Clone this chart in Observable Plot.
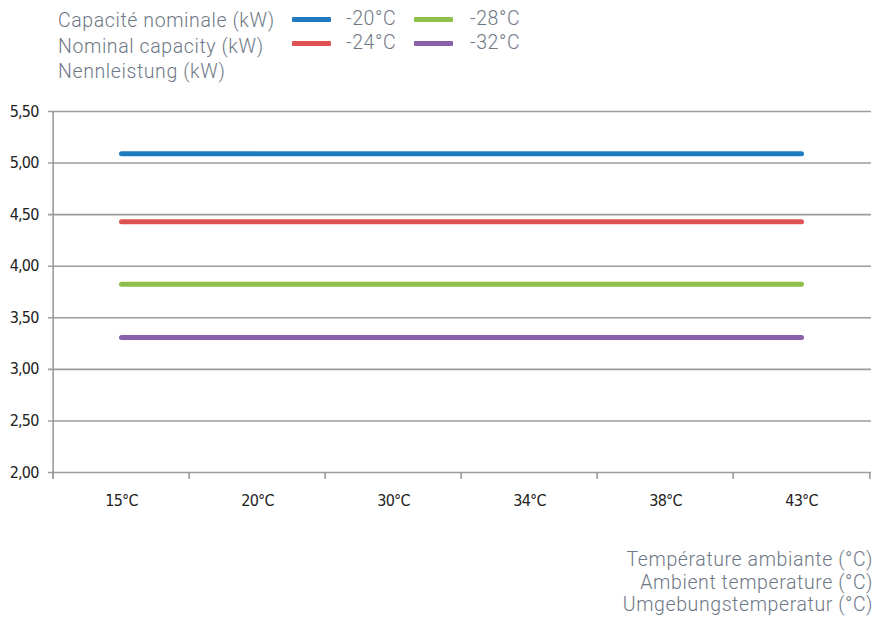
<!DOCTYPE html>
<html><head><meta charset="utf-8">
<script src="https://cdn.jsdelivr.net/npm/d3@7"></script>
<script src="https://cdn.jsdelivr.net/npm/@observablehq/plot@0.6"></script>
<style>
body{margin:0;background:#fff;width:875px;height:622px;position:relative;overflow:hidden}
#head{position:relative;height:95px;font-family:Roboto,"Noto Sans",sans-serif;font-weight:300;color:#6e7886;font-size:19.5px;letter-spacing:0.6px}
#title{position:absolute;left:58px;top:8px;line-height:25.5px}
.sw{position:absolute;height:5px;width:39px;border-radius:1px}
.lt{position:absolute;line-height:20px}
#chart svg{display:block}
#foot{position:absolute;right:2px;top:549px;text-align:right;font-family:Roboto,"Noto Sans",sans-serif;font-weight:300;color:#6e7886;font-size:19.5px;letter-spacing:0.6px;line-height:22.5px}
</style></head>
<body>
<div id="head"><div id="title"></div></div>
<div id="chart"></div>
<div id="foot"></div>
<script>
const titleLines = ["Capacité nominale (kW)", "Nominal capacity (kW)", "Nennleistung (kW)"];
const xTitleLines = ["Température ambiante (°C)", "Ambient temperature (°C)", "Umgebungstemperatur (°C)"];
const temps = ["15°C", "20°C", "30°C", "34°C", "38°C", "43°C"];
const series = ["-20°C", "-24°C", "-28°C", "-32°C"];
const cap20 = [5.09, 5.09, 5.09, 5.09, 5.09, 5.09];
const cap24 = [4.43, 4.43, 4.43, 4.43, 4.43, 4.43];
const cap28 = [3.825, 3.825, 3.825, 3.825, 3.825, 3.825];
const cap32 = [3.31, 3.31, 3.31, 3.31, 3.31, 3.31];
const yTicks = [2.0, 2.5, 3.0, 3.5, 4.0, 4.5, 5.0, 5.5];
const colors = ["#1f7bc1", "#e05252", "#8cc04b", "#8a60a8"];

const values = [cap20, cap24, cap28, cap32];
const rows = [];
series.forEach((s, i) => temps.forEach((t, j) => rows.push({series: s, temp: t, value: values[i][j]})));

// header
document.getElementById("title").innerHTML = titleLines.join("<br>");
const head = document.getElementById("head");
const legendPos = [[292, 19, 346, 9], [292, 43, 346, 33], [414, 19, 470, 9], [414, 43, 470, 33]];
series.forEach((s, i) => {
  const [sx, sy, tx, ty] = legendPos[i];
  const sw = document.createElement("div"); sw.className = "sw";
  sw.style.left = sx + "px"; sw.style.top = (sy - 2.5) + "px"; sw.style.background = colors[i];
  const lt = document.createElement("div"); lt.className = "lt";
  lt.style.left = tx + "px"; lt.style.top = ty + "px"; lt.textContent = s;
  head.appendChild(sw); head.appendChild(lt);
});
document.getElementById("foot").innerHTML = xTitleLines.join("<br>");

const fmt = d => d.toFixed(2).replace(".", ",");
const bw = (875 - 51 - 4) / temps.length;

const plot = Plot.plot({
  width: 875,
  height: 430,
  marginLeft: 51,
  marginRight: 4,
  marginTop: 16,
  marginBottom: 53,
  style: {fontFamily: "'Liberation Sans Narrow','DejaVu Sans Condensed',sans-serif", fontSize: "16px", letterSpacing: "-0.8px", color: "#222", background: "#fff"},
  x: {type: "band", domain: temps, padding: 0},
  y: {domain: [2, 5.5]},
  color: {domain: series, range: colors},
  marks: [
    Plot.ruleY(yTicks, {y: d => d, stroke: "#9c9c9c", strokeWidth: 1.6, insetLeft: -3}),
    Plot.ruleX([temps[0]], {x: d => d, dx: -bw / 2, stroke: "#9c9c9c", strokeWidth: 1.6, insetBottom: -7}),
    Plot.axisY({ticks: yTicks, tickFormat: fmt, tickSize: 0, tickPadding: 13, label: null, fontSize: 16, fill: "#222"}),
    Plot.axisX({tickSize: 7, dx: -bw / 2, tickFormat: () => "", stroke: "#9c9c9c", strokeWidth: 1.6, label: null}),
    Plot.axisX({ticks: [temps[temps.length - 1]], tickSize: 7, dx: bw / 2, tickFormat: () => "", stroke: "#9c9c9c", strokeWidth: 1.6, label: null}),
    Plot.axisX({tickSize: 0, tickPadding: 22, label: null, fontSize: 16, fill: "#222"}),
    Plot.line(rows, {x: "temp", y: "value", z: "series", stroke: "series", strokeWidth: 5, strokeLinecap: "round"})
  ]
});
document.getElementById("chart").appendChild(plot);
</script>
</body></html>
